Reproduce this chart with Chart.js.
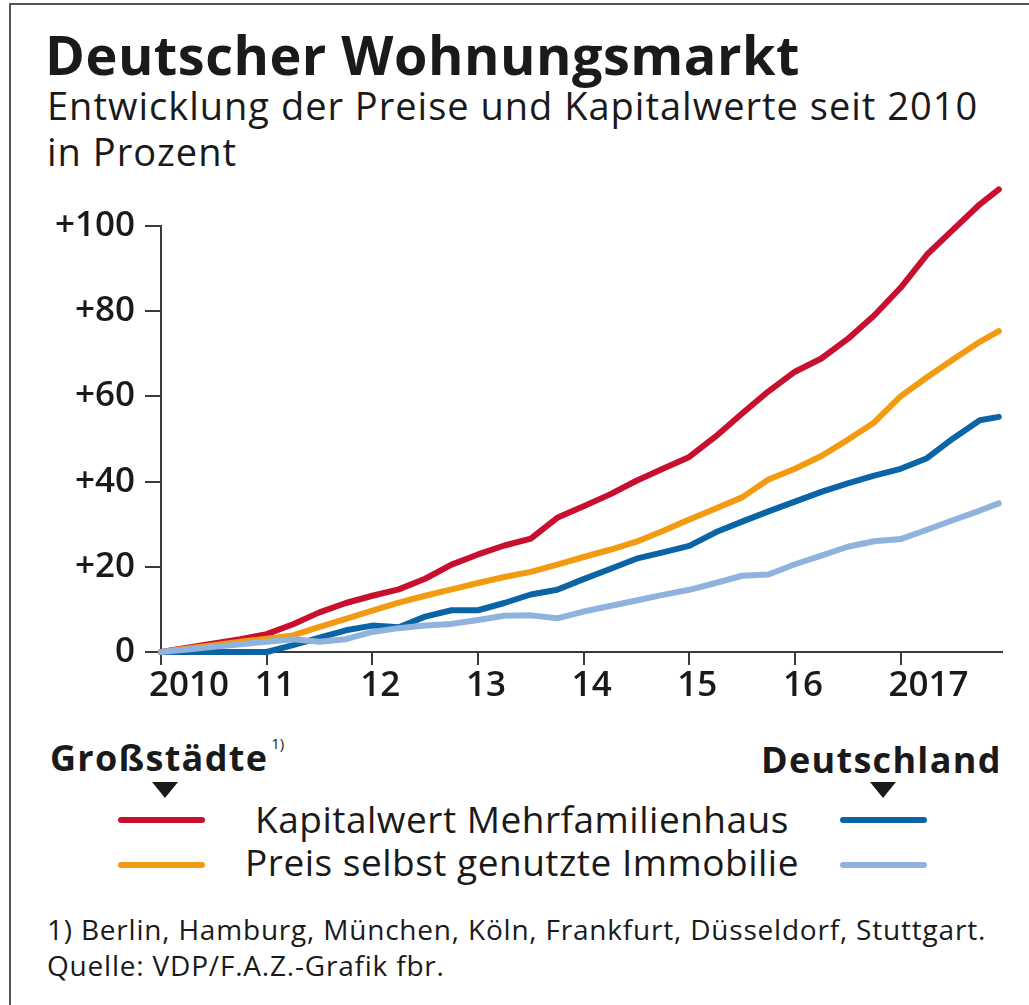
<!DOCTYPE html>
<html>
<head>
<meta charset="utf-8">
<script src="https://cdn.jsdelivr.net/npm/chart.js@4.4.0/dist/chart.umd.min.js"></script>
<style>
    body { margin: 0; background: #fff; }
    #page { position: relative; width: 1029px; height: 1005px; overflow: hidden; font-family: "Open Sans", sans-serif; color: #1a1a1a; }
    .frame { position: absolute; left: 9px; top: 3px; width: 1030px; height: 1010px; border-top: 2px solid #555; border-left: 2px solid #555; }
    .abs { position: absolute; white-space: nowrap; }
    #title { left: 45px; top: 27px; font-size: 54px; font-weight: 700; line-height: 54px; letter-spacing: 0.5px; }
    #subtitle { left: 47px; top: 82px; font-size: 38px; line-height: 46px; letter-spacing: 1px; }
    #chart-wrap { position: absolute; left: 0; top: 170px; width: 1029px; height: 540px; }
    .group { font-size: 36px; font-weight: 700; line-height: 36px; letter-spacing: 1.3px; }
    .group sup { font-size: 15px; font-weight: 400; letter-spacing: 0; vertical-align: baseline; position: relative; top: -22px; margin-left: 3px; }
    .tri { position: absolute; width: 0; height: 0; border-left: 13px solid transparent; border-right: 13px solid transparent; border-top: 16px solid #1a1a1a; }
    .swatch { position: absolute; height: 6px; width: 87px; border-radius: 3px; }
    .legtext { font-size: 37px; line-height: 42px; text-align: center; width: 640px; left: 202px; letter-spacing: 0.5px; }
    .note { left: 47px; font-size: 28px; line-height: 36px; letter-spacing: 0.8px; }
</style>
</head>
<body>
<div id="page">
    <div class="frame"></div>
    <div id="title" class="abs">Deutscher Wohnungsmarkt</div>
    <div id="subtitle" class="abs">Entwicklung der Preise und Kapitalwerte seit 2010<br>in Prozent</div>
    <div id="chart-wrap"><canvas id="chart"></canvas></div>

    <div class="abs group" style="left:50px; top:740px;">Großstädte<sup>1)</sup></div>
    <div class="tri" style="left:152px; top:782px;"></div>
    <div class="abs group" style="left:761px; top:742px;">Deutschland</div>
    <div class="tri" style="left:870px; top:782px;"></div>

    <div class="swatch" style="left:118px; top:817px; background:#c8102e;"></div>
    <div class="swatch" style="left:118px; top:862px; background:#f29b10;"></div>
    <div class="swatch" style="left:840px; top:817px; background:#0b64a6;"></div>
    <div class="swatch" style="left:840px; top:862px; background:#8fb3dc;"></div>
    <div class="abs legtext" style="top:798px;">Kapitalwert Mehrfamilienhaus</div>
    <div class="abs legtext" style="top:841px;">Preis selbst genutzte Immobilie</div>

    <div class="abs note" style="top:911px;">1) Berlin, Hamburg, München, Köln, Frankfurt, Düsseldorf, Stuttgart.<br>Quelle: VDP/F.A.Z.-Grafik fbr.</div>
</div>
<script>
// quarterly points
const quarters = [
    2010, 2010.25, 2010.5, 2010.75,
    2011, 2011.25, 2011.5, 2011.75,
    2012, 2012.25, 2012.5, 2012.75,
    2013, 2013.25, 2013.5, 2013.75,
    2014, 2014.25, 2014.5, 2014.75,
    2015, 2015.25, 2015.5, 2015.75,
    2016, 2016.25, 2016.5, 2016.75,
    2017, 2017.25, 2017.5, 2017.75, 2017.93
];
// Großstädte
const kapitalGross = [
    0, 1.0, 2.0, 3.0,
    4.2, 6.5, 9.3, 11.5,
    13.2, 14.7, 17.2, 20.5,
    22.9, 25.0, 26.6, 31.5,
    34.2, 37.0, 40.2, 43.0,
    45.8, 50.6, 56.0, 61.2,
    65.8, 68.9, 73.5, 79.0,
    85.5, 93.3, 99.2, 105.1, 108.6
];
const preisGross = [
    0, 0.8, 1.6, 2.4,
    3.1, 3.9, 5.9, 7.8,
    9.7, 11.6, 13.2, 14.7,
    16.2, 17.6, 18.8, 20.5,
    22.3, 24.0, 25.9, 28.4,
    31.1, 33.7, 36.3, 40.5,
    43.0, 46.0, 49.8, 53.9,
    60.0, 64.5, 68.7, 72.8, 75.3
];
// Deutschland
const kapitalDE = [
    0, 0, 0, 0,
    0, 1.6, 3.4, 5.1,
    6.2, 5.8, 8.3, 9.8,
    9.8, 11.5, 13.5, 14.6,
    17.1, 19.5, 21.9, 23.4,
    24.9, 28.1, 30.6, 33.0,
    35.3, 37.6, 39.6, 41.4,
    43.0, 45.5, 50.2, 54.4, 55.2
];
const preisDE = [
    0, 0.6, 1.2, 1.8,
    2.4, 3.0, 2.4, 3.0,
    4.7, 5.6, 6.2, 6.6,
    7.5, 8.5, 8.6, 7.9,
    9.5, 10.8, 12.1, 13.4,
    14.6, 16.2, 17.9, 18.2,
    20.6, 22.6, 24.7, 26.0,
    26.5, 28.7, 31.0, 33.2, 34.9
];
const yearLabels = ['2010', '11', '12', '13', '14', '15', '16', '2017'];

const axisColor = '#3a3a3a';
const tickFont = { family: '"Open Sans", sans-serif', size: 35, weight: 600 };

function series(values) {
    return quarters.map((x, i) => ({ x: x, y: values[i] }));
}

function lineSet(label, values, color, order) {
    return {
        label: label,
        data: series(values),
        borderColor: color,
        backgroundColor: color,
        borderWidth: 6,
        pointRadius: 0,
        tension: 0,
        borderCapStyle: 'round',
        borderJoinStyle: 'round',
        clip: false,
        order: order
    };
}

new Chart(document.getElementById('chart'), {
    type: 'line',
    data: {
        datasets: [
            lineSet('Kapitalwert Mehrfamilienhaus (Großstädte)', kapitalGross, '#c8102e', 4),
            lineSet('Preis selbst genutzte Immobilie (Großstädte)', preisGross, '#f29b10', 3),
            lineSet('Kapitalwert Mehrfamilienhaus (Deutschland)', kapitalDE, '#0b64a6', 2),
            lineSet('Preis selbst genutzte Immobilie (Deutschland)', preisDE, '#8fb3dc', 1)
        ]
    },
    options: {
        responsive: true,
        maintainAspectRatio: false,
        animation: false,
        layout: { padding: { top: 56, right: 27, left: 0, bottom: 0 } },
        plugins: { legend: { display: false }, tooltip: { enabled: false } },
        scales: {
            x: {
                type: 'linear',
                min: 2010,
                max: 2017.96,
                afterFit: function (scale) { scale.height = 58; },
                ticks: {
                    stepSize: 1,
                    includeBounds: false,
                    align: 'start',
                    labelOffset: -12,
                    padding: 0,
                    color: '#1a1a1a',
                    font: tickFont,
                    maxRotation: 0,
                    callback: function (value) {
                        return yearLabels[Math.round(value - 2010)];
                    }
                },
                grid: { drawOnChartArea: false, tickLength: 13, color: axisColor, lineWidth: 2 },
                border: { color: axisColor, width: 2 }
            },
            y: {
                min: 0,
                max: 100,
                afterFit: function (scale) { scale.width = 161; },
                ticks: {
                    stepSize: 20,
                    padding: 10,
                    color: '#1a1a1a',
                    font: tickFont,
                    callback: function (value) {
                        return value > 0 ? '+' + value : '0';
                    }
                },
                grid: { drawOnChartArea: false, tickLength: 16, color: axisColor, lineWidth: 2 },
                border: { color: axisColor, width: 2 }
            }
        }
    }
});
</script>
</body>
</html>
